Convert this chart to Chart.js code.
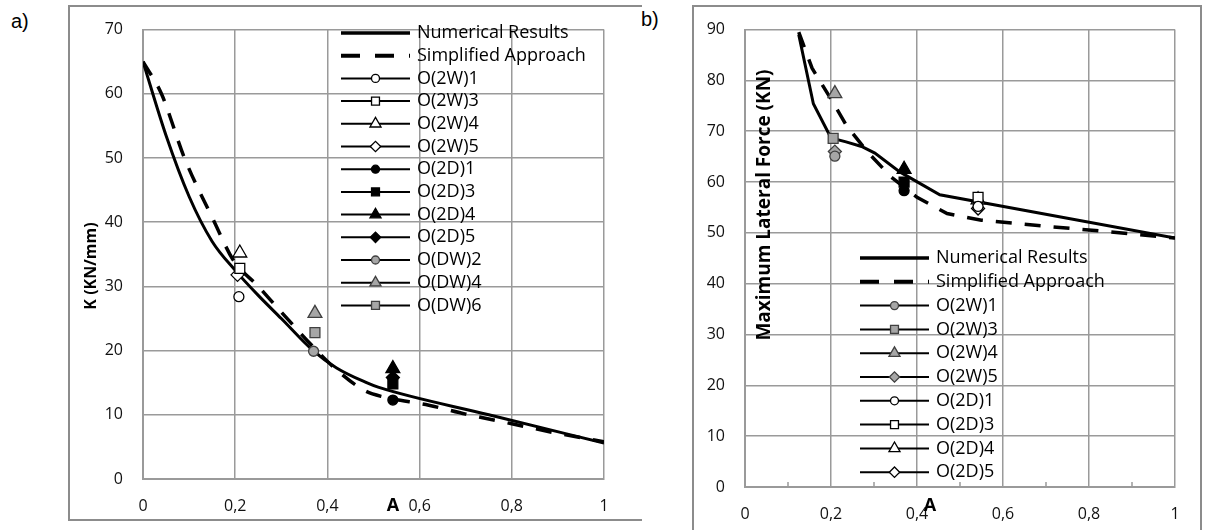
<!DOCTYPE html>
<html>
<head>
<meta charset="utf-8">
<script src="https://cdn.jsdelivr.net/npm/chart.js"></script>
<style>
  body { margin: 0; background: #fff; width: 1209px; height: 530px; overflow: hidden; position: relative; }
  .frame { position: absolute; border: 2px solid #8c8c8c; box-sizing: border-box; }
  #frameA { left: 68px; top: 5px; width: 574px; height: 516px; border-right: none; }
  #frameB { left: 692px; top: 5px; width: 510px; height: 540px; border-bottom: none; }
  .tag { position: absolute; font-family: "Liberation Sans", Arial, sans-serif; font-size: 20px; line-height: 22px; color: #000; }
  .holder { position: absolute; top: 0; }
</style>
</head>
<body>
<div class="frame" id="frameA"></div>
<div class="frame" id="frameB"></div>
<div class="tag" style="left:11px;top:10px">a)</div>
<div class="tag" style="left:641px;top:8px">b)</div>
<div class="holder" style="left:0;width:640px;height:530px"><canvas id="chartA" width="640" height="530"></canvas></div>
<div class="holder" style="left:640px;width:569px;height:530px"><canvas id="chartB" width="569" height="530"></canvas></div>
<script>
// ---- chart a) stiffness K vs A ----
var aNum = [0, 0.05, 0.1, 0.15, 0.2, 0.25, 0.3, 0.369, 0.42, 0.485, 0.51, 0.75, 1];
var kNum = [65, 53.5, 44, 37, 32.5, 28.6, 25, 20, 17.3, 15, 14.3, 10, 5.6];
var aSimp = [0, 0.04, 0.09, 0.155, 0.195, 0.25, 0.3, 0.377, 0.42, 0.48, 0.52, 0.62, 0.7, 0.8, 0.9, 1];
var kSimp = [65, 60, 50, 40, 34.2, 30, 26, 20, 17, 13.8, 12.8, 11.5, 10.1, 8.6, 7.1, 5.8];

var testNamesA = ['O(2W)1', 'O(2W)3', 'O(2W)4', 'O(2W)5', 'O(2D)1', 'O(2D)3', 'O(2D)4', 'O(2D)5', 'O(DW)2', 'O(DW)4', 'O(DW)6'];
var testAA = [0.208, 0.21, 0.21, 0.205, 0.542, 0.542, 0.542, 0.542, 0.37, 0.373, 0.373];
var testKA = [28.4, 32.8, 35.2, 31.8, 12.3, 14.8, 17.2, 15.8, 19.9, 25.8, 22.8];

// ---- chart b) max lateral force vs A ----
var aNumB = [0.125, 0.159, 0.2, 0.235, 0.271, 0.302, 0.36, 0.453, 1];
var fNumB = [89, 75.4, 68.7, 67.9, 67, 65.7, 62, 57.5, 49];
var aSimpB = [0.125, 0.156, 0.198, 0.237, 0.284, 0.34, 0.4, 0.47, 0.55, 0.7, 0.85, 1];
var fSimpB = [89.5, 82.4, 76.6, 71, 66, 61, 57, 53.8, 52.5, 51.3, 50.2, 49];

var testNamesB = ['O(2W)1', 'O(2W)3', 'O(2W)4', 'O(2W)5', 'O(2D)1', 'O(2D)3', 'O(2D)4', 'O(2D)5', 'O(DW)2', 'O(DW)4', 'O(DW)6'];
var testAB = [0.209, 0.205, 0.209, 0.209, 0.542, 0.542, 0.542, 0.542, 0.37, 0.37, 0.37];
var testFB = [65.1, 68.6, 77.4, 66, 55.2, 57, 56.5, 54.8, 58.3, 62.5, 60];

var GRID = '#9a9a9a';
var GRAY = '#a6a6a6';
var SHAPE = { '1': 'circle', '2': 'circle', '3': 'rect', '4': 'triangle', '5': 'rectRot', '6': 'rect' };
var SIZE = { circle: 5, rect: 7, triangle: 8, rectRot: 6.5 };

function pts(xs, ys) {
  return xs.map(function (x, i) { return { x: x, y: ys[i] }; });
}

function markerDataset(name, x, y, fill, stroke) {
  var shape = SHAPE[name.slice(-1)];
  return {
    label: name,
    data: [{ x: x, y: y }],
    showLine: false,
    pointStyle: shape,
    pointRadius: SIZE[shape],
    pointHoverRadius: SIZE[shape],
    pointBackgroundColor: fill,
    pointBorderColor: stroke,
    pointBorderWidth: 1.3,
    order: 0
  };
}

function lineDatasets(xn, yn, xs, ys, smooth) {
  return [{
    label: 'Numerical Results',
    data: pts(xn, yn),
    showLine: true,
    borderColor: '#000',
    borderWidth: 3,
    pointRadius: 0,
    cubicInterpolationMode: smooth ? 'monotone' : 'default',
    tension: 0,
    order: 1
  }, {
    label: 'Simplified Approach',
    data: pts(xs, ys),
    showLine: true,
    borderColor: '#000',
    borderWidth: 3.5,
    borderDash: [16, 13],
    pointRadius: 0,
    cubicInterpolationMode: smooth ? 'monotone' : 'default',
    tension: 0,
    order: 1
  }];
}

var dsA = lineDatasets(aNum, kNum, aSimp, kSimp, true);
testNamesA.forEach(function (n, i) {
  var g = n.slice(0, 4);
  var fill = g === 'O(2W' ? '#fff' : (g === 'O(2D' ? '#000' : GRAY);
  var stroke = g === 'O(DW' ? '#404040' : '#000';
  dsA.push(markerDataset(n, testAA[i], testKA[i], fill, stroke));
});

var dsB = lineDatasets(aNumB, fNumB, aSimpB, fSimpB, false);
testNamesB.forEach(function (n, i) {
  var g = n.slice(0, 4);
  var fill = g === 'O(2W' ? GRAY : (g === 'O(2D' ? '#fff' : '#000');
  var stroke = g === 'O(2W' ? '#404040' : '#000';
  dsB.push(markerDataset(n, testAB[i], testFB[i], fill, stroke));
});

function fmt(v) {
  var r = Math.round(v * 10) / 10;
  if (r === 0) return '0';
  if (r === 1) return '1';
  return r.toFixed(1).replace('.', ',');
}

// legend, axis titles and small ticks drawn on top of the plot
var extras = {
  id: 'extras',
  afterDatasetsDraw: function (chart, args, o) {
    var ctx = chart.ctx;
    ctx.save();
    if (o.minor) {
      var xs = chart.scales.x, yb = chart.chartArea.bottom;
      ctx.strokeStyle = GRID; ctx.lineWidth = 1.5;
      o.minor.forEach(function (v) {
        var px = Math.round(xs.getPixelForValue(v));
        ctx.beginPath(); ctx.moveTo(px, yb); ctx.lineTo(px, yb - 5); ctx.stroke();
      });
    }
    var lg = o.legend;
    ctx.font = '18px "Open Sans"';
    ctx.textBaseline = 'middle';
    ctx.textAlign = 'left';
    lg.names.forEach(function (name, i) {
      var ds = chart.data.datasets.find(function (d) { return d.label === name; });
      var y = lg.y + i * lg.dy;
      ctx.strokeStyle = '#000';
      ctx.lineWidth = ds.showLine ? ds.borderWidth + 0.5 : 2;
      ctx.setLineDash(ds.showLine ? (ds.borderDash ? [19, 15] : []) : []);
      ctx.beginPath(); ctx.moveTo(lg.x, y); ctx.lineTo(lg.x + lg.len, y); ctx.stroke();
      ctx.setLineDash([]);
      if (!ds.showLine) {
        ctx.fillStyle = ds.pointBackgroundColor;
        ctx.strokeStyle = ds.pointBorderColor;
        ctx.lineWidth = ds.pointBorderWidth;
        Chart.helpers.drawPoint(ctx, {
          pointStyle: ds.pointStyle, rotation: 0,
          radius: ds.pointRadius * 0.8, borderWidth: ds.pointBorderWidth
        }, lg.x + lg.len / 2, y);
      }
      ctx.fillStyle = '#000';
      ctx.fillText(name, lg.x + lg.len + 7, y);
    });
    o.titles.forEach(function (t) {
      ctx.save();
      ctx.font = 'bold ' + t.size + 'px "Open Sans"';
      ctx.fillStyle = '#000';
      ctx.textAlign = 'center';
      ctx.textBaseline = 'middle';
      ctx.translate(t.x, t.y);
      ctx.rotate(t.rot || 0);
      ctx.fillText(t.text, 0, 0);
      ctx.restore();
    });
    ctx.restore();
  }
};

function makeOptions(yMax, pad, yw, xStep, legend, titles, minor) {
  return {
    responsive: false,
    animation: false,
    layout: { padding: pad },
    plugins: {
      legend: { display: false },
      tooltip: { enabled: false },
      extras: { legend: legend, titles: titles, minor: minor }
    },
    scales: {
      x: {
        type: 'linear', min: 0, max: 1,
        afterFit: function (s) { s.height = 40; },
        grid: {
          drawTicks: false, lineWidth: 1.5,
          color: function (c) { return (xStep < 0.2 && c.index % 2 === 1) ? 'rgba(0,0,0,0)' : GRID; }
        },
        border: { color: GRID, width: 2 },
        ticks: {
          stepSize: xStep, padding: 18, color: '#111', maxRotation: 0, autoSkip: false,
          font: { family: 'Open Sans', size: 16 },
          callback: function (v, i) { return (xStep < 0.2 && i % 2 === 1) ? '' : fmt(v); }
        }
      },
      y: {
        min: 0, max: yMax,
        afterFit: function (s) { s.width = yw; },
        grid: { drawTicks: false, color: GRID, lineWidth: 1.5 },
        border: { color: GRID, width: 2 },
        ticks: {
          stepSize: 10, padding: 20, color: '#111',
          font: { family: 'Open Sans', size: 16 }
        }
      }
    }
  };
}

new Chart(document.getElementById('chartA'), {
  type: 'scatter',
  data: { datasets: dsA },
  options: makeOptions(70, { left: 80, right: 36, top: 17, bottom: 11 }, 63, 0.2,
    { x: 341, y: 33, dy: 22.7, len: 69, names: ['Numerical Results', 'Simplified Approach'].concat(testNamesA) },
    [{ text: 'K (KN/mm)', x: 91, y: 266, rot: -Math.PI / 2, size: 16 },
     { text: 'A', x: 393, y: 506, size: 18 }],
    null),
  plugins: [extras]
});

new Chart(document.getElementById('chartB'), {
  type: 'scatter',
  data: { datasets: dsB },
  options: makeOptions(90, { left: 45, right: 34, top: 17, bottom: 3 }, 60, 0.1,
    { x: 220, y: 258, dy: 23.8, len: 69, names: ['Numerical Results', 'Simplified Approach'].concat(testNamesB.slice(0, 8)) },
    [{ text: 'Maximum Lateral Force (KN)', x: 125, y: 205, rot: -Math.PI / 2, size: 19 },
     { text: 'A', x: 290, y: 506, size: 18 }],
    [0.1, 0.3, 0.5, 0.7, 0.9]),
  plugins: [extras]
});
</script>
</body>
</html>
